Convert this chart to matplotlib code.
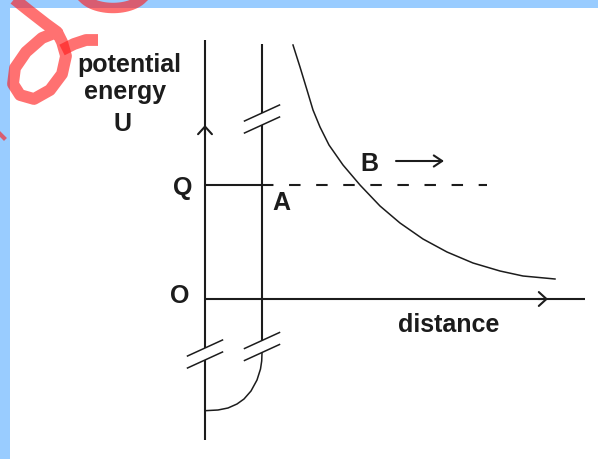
import matplotlib
matplotlib.use("Agg")
import matplotlib.pyplot as plt
from matplotlib.patches import Rectangle
import numpy as np

# ---- diagram data (distance d, potential energy U) ----
axis_top_U = 2.59
axis_bottom_U = -1.41
axis_right_d = 3.80
wall_d = 0.57
wall_top_U = 2.55
level_Q = 1.14
level_O = 0.0
dash_end_d = 2.82

# repulsive potential curve
curve_d = [0.88, 0.95, 1.02, 1.08, 1.15, 1.24, 1.38, 1.55, 1.75, 1.95, 2.18, 2.42,
           2.68, 2.95, 3.18, 3.50]
curve_U = [2.54, 2.32, 2.09, 1.89, 1.72, 1.54, 1.34, 1.14, 0.93, 0.76, 0.60, 0.47,
           0.36, 0.28, 0.23, 0.20]

# bottom of the well (quarter arc joining the wall to the energy axis)
well_d = [0.57, 0.567, 0.555, 0.52, 0.46, 0.39, 0.32, 0.23, 0.13, 0.0]
well_U = [-0.54, -0.62, -0.70, -0.81, -0.92, -1.00, -1.05, -1.09, -1.11, -1.117]

# axis break symbols: (d, U) centre of each gap
break_d = [0.0, wall_d, wall_d]
break_U = [-0.55, 1.80, -0.475]

# arrowhead positions
y_arrow_U = 1.74
x_arrow_d = 3.43
motion_arrow_d = [1.91, 2.39]
motion_arrow_U = 1.38

labels = [
    ("potential", -0.76, 2.27),
    ("energy", -0.80, 2.00),
    ("U", -0.825, 1.68),
    ("Q", -0.22, 1.04),
    ("O", -0.25, -0.04),
    ("A", 0.76, 0.895),
    ("B", 1.645, 1.28),
    ("distance", 2.435, -0.33),
]

INK = "#1c1c1c"
W, H = 598, 459

fig = plt.figure(figsize=(W / 100, H / 100), dpi=100)
fig.patch.set_facecolor("white")
ax = fig.add_axes([0, 0, 1, 1])
ax.set_xlim(-2.05, 3.93)
ax.set_ylim(-1.60, 2.99)
ax.axis("off")

lw_axis = 1.5
gap = 0.06  # half height of a break gap

# energy axis, broken near the bottom
ax.plot([0, 0], [axis_top_U, break_U[0] + gap], color=INK, lw=lw_axis, solid_capstyle="butt")
ax.plot([0, 0], [break_U[0] - gap, axis_bottom_U], color=INK, lw=lw_axis, solid_capstyle="butt")

# the wall line, broken twice
ax.plot([wall_d, wall_d], [wall_top_U, break_U[1] + gap], color=INK, lw=lw_axis, solid_capstyle="butt")
ax.plot([wall_d, wall_d], [break_U[1] - gap, break_U[2] + gap], color=INK, lw=lw_axis, solid_capstyle="butt")

# distance axis
ax.plot([0, axis_right_d], [level_O, level_O], color=INK, lw=lw_axis, solid_capstyle="butt")

# energy level Q: solid inside the well, dashed beyond
ax.plot([0, wall_d], [level_Q, level_Q], color=INK, lw=lw_axis, solid_capstyle="butt")
ax.plot([wall_d, dash_end_d], [level_Q, level_Q], color=INK, lw=lw_axis,
        linestyle=(0, (5.5, 7.5)))

# potential curve
ax.plot(curve_d, curve_U, color=INK, lw=1.1)
# well bottom
ax.plot(well_d, well_U, color=INK, lw=1.1)

# break slashes
sx, sy = 0.175, 0.08
for bd, bu in zip(break_d, break_U):
    for off in (gap, -gap):
        ax.plot([bd - sx, bd + sx], [bu - off - sy, bu - off + sy], color=INK, lw=1.1)

# arrowheads on the axes
head = dict(arrowstyle="->,head_length=0.55,head_width=0.5", color=INK, lw=lw_axis,
            shrinkA=0, shrinkB=0)
ax.annotate("", xy=(0, y_arrow_U), xytext=(0, y_arrow_U - 0.1), arrowprops=head)
ax.annotate("", xy=(x_arrow_d, 0), xytext=(x_arrow_d - 0.1, 0), arrowprops=head)
ax.annotate("", xy=(motion_arrow_d[1], motion_arrow_U),
            xytext=(motion_arrow_d[0], motion_arrow_U),
            arrowprops=dict(arrowstyle="->,head_length=0.6,head_width=0.4", color=INK,
                            lw=1.5, shrinkA=0, shrinkB=0))

for txt, x, y in labels:
    ax.text(x, y, txt, ha="center", va="baseline", fontsize=18, fontweight="bold",
            family="Liberation Sans", color=INK)

# ---- page decoration: blue frame and red watermark ----
ov = fig.add_axes([0, 0, 1, 1], zorder=5)
ov.set_xlim(0, W)
ov.set_ylim(H, 0)
ov.axis("off")
ov.patch.set_alpha(0)
ov.add_patch(Rectangle((0, 0), 10, H, color="#99ccff", lw=0))
ov.add_patch(Rectangle((0, 0), W, 8, color="#99ccff", lw=0))

RED = "#ff1a1a"
mark_x = [8, 28, 46, 57, 42, 26, 15, 13, 20, 34, 50, 62, 66, 62, 57]
mark_y = [-6, 10, 24, 32, 38, 52, 68, 84, 95, 99, 90, 74, 56, 42, 32]
ov.plot(mark_x, mark_y, color=RED, alpha=0.62, lw=8.5, solid_capstyle="butt",
        solid_joinstyle="round")
tail_x = [62, 74, 86, 98]
tail_y = [50, 44, 40, 40]
ov.plot(tail_x, tail_y, color=RED, alpha=0.62, lw=8.5, solid_capstyle="butt")
arc_t = np.linspace(0, np.pi, 40)
ov.plot(113 + 33 * np.cos(arc_t), -10 + 18 * np.sin(arc_t), color=RED, alpha=0.62, lw=7.5)
ov.plot([0, 4], [134, 138], color=RED, alpha=0.62, lw=3)

fig.savefig("out.png", dpi=100)
